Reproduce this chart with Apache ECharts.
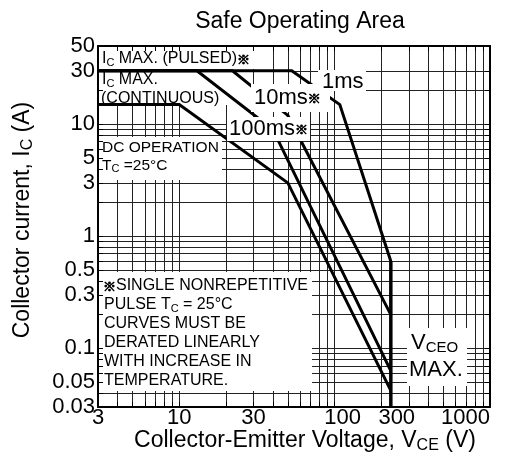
<!DOCTYPE html>
<html lang="en">
<head>
<meta charset="UTF-8">
<title>Safe Operating Area</title>
<script src="https://cdn.jsdelivr.net/npm/echarts@6/dist/echarts.min.js"></script>
<style>
  html, body { margin: 0; padding: 0; background: #fff; }
  #chart { width: 505px; height: 473px; }
</style>
</head>
<body>
<div id="chart"></div>
<script>
// axis range
const vMin = 3, vMax = 1000;
const iMin = 0.03, iMax = 50;

// tick labels
const xTickValues = [3, 10, 30, 100, 300, 1000];
const xTickLabels = ['3', '10', '30', '100', '300', '1000'];
const yTickValues = [0.03, 0.05, 0.1, 0.3, 0.5, 1, 3, 5, 10, 30, 50];
const yTickLabels = ['0.03', '0.05', '0.1', '0.3', '0.5', '1', '3', '5', '10', '30', '50'];

// grid lines
const vGrid = [4, 5, 6, 7, 8, 9, 10, 20, 30, 40, 50, 60, 70, 80, 90, 100, 200, 300, 400, 500, 600, 700, 800, 900];
const iGrid = [0.04, 0.05, 0.06, 0.07, 0.08, 0.09, 0.1, 0.2, 0.3, 0.4, 0.5, 0.6, 0.7, 0.8, 0.9,
               1, 2, 3, 4, 5, 6, 7, 8, 9, 10, 20, 30];

// SOA curves, [V, A]
const pulse1ms = [[3, 30], [53, 30], [108, 15], [230, 0.6]];
const pulse10ms = [[3, 30], [22, 30], [50, 12], [230, 0.2]];
const pulse100ms = [[3, 30], [13, 30], [40, 9], [230, 0.063]];
const dcOperation = [[3, 15], [10, 15], [50, 3], [230, 0.042]];
const vceoMax = [[230, 0.6], [230, 0.03]];

const FONT = '"Liberation Sans", Arial, sans-serif';
const MARK = '"Noto Sans CJK JP", "DejaVu Sans", sans-serif';

// nearest tick label for a value (log axis values come back slightly off)
function pickLabel(values, labels, v) {
    let best = 0;
    for (let k = 1; k < values.length; k++) {
        if (Math.abs(Math.log(values[k] / v)) < Math.abs(Math.log(values[best] / v))) best = k;
    }
    return labels[best];
}

function curve(name, data, width) {
    return {
        name: name, type: 'line', data: data, z: 3,
        symbol: 'none', silent: true, animation: false,
        lineStyle: {color: '#000', width: width, join: 'miter'}
    };
}

// small white box behind a text block
function box(x, y, w, h, z) {
    return {type: 'rect', z: z, silent: true, shape: {x: x, y: y, width: w, height: h}, style: {fill: '#fff'}};
}

function note(x, y, text, size, z, align) {
    const sub = Math.round(size * 0.7);
    return {
        type: 'text', x: x, y: y, z: z, silent: true,
        style: {
            text: text, fill: '#000', fontFamily: FONT, fontSize: size,
            textAlign: align || 'left', textVerticalAlign: 'middle',
            rich: {
                n: {fontSize: size, fontFamily: FONT, fill: '#000', lineHeight: size + 2},
                s: {fontSize: sub, fontFamily: FONT, fill: '#000', lineHeight: sub, verticalAlign: 'bottom'},
                // the reference mark is heavier than the font's glyph
                k: {fontSize: 13, fontFamily: MARK, fill: '#000', stroke: '#000', lineWidth: 0.8, lineHeight: size + 2}
            }
        }
    };
}

const gridLines = vGrid.map(v => ({coords: [[v, iMin], [v, iMax]]}))
    .concat(iGrid.map(a => ({coords: [[vMin, a], [vMax, a]]})));

const axisCommon = {
    type: 'log', logBase: 10, z: 6,
    axisLine: {show: true, lineStyle: {color: '#000', width: 2}},
    splitLine: {show: false},
    minorTick: {show: false}
};

const chart = echarts.init(document.getElementById('chart'));
chart.setOption({
    animation: false,
    backgroundColor: '#fff',
    grid: {left: 98, top: 46, width: 392, height: 361},
    xAxis: [
        Object.assign({}, axisCommon, {
            min: vMin, max: vMax, position: 'bottom',
            axisTick: {show: true, inside: true, length: 5, customValues: vGrid, lineStyle: {color: '#000'}},
            axisLabel: {
                customValues: xTickValues, margin: 0, fontSize: 22, fontFamily: FONT, color: '#000',
                alignMaxLabel: 'right',
                formatter: function (v) {
                    const t = pickLabel(xTickValues, xTickLabels, v);
                    if (t === '100') return '{r|' + t + '}';
                    if (t === '300') return '{l|' + t + '}';
                    return t;
                },
                rich: {
                    r: {fontSize: 22, fontFamily: FONT, color: '#000', padding: [0, 0, 0, 16]},
                    l: {fontSize: 22, fontFamily: FONT, color: '#000', padding: [0, 24, 0, 0]}
                }
            }
        }),
        Object.assign({}, axisCommon, {
            min: vMin, max: vMax, position: 'top',
            axisTick: {show: true, inside: true, length: 5, customValues: vGrid, lineStyle: {color: '#000'}},
            axisLabel: {show: false}
        })
    ],
    yAxis: [
        Object.assign({}, axisCommon, {
            min: iMin, max: iMax, position: 'left',
            axisTick: {show: true, inside: true, length: 5, customValues: iGrid, lineStyle: {color: '#000'}},
            axisLabel: {
                customValues: yTickValues, margin: 3, fontSize: 22, fontFamily: FONT, color: '#000',
                formatter: v => pickLabel(yTickValues, yTickLabels, v)
            }
        }),
        Object.assign({}, axisCommon, {
            min: iMin, max: iMax, position: 'right',
            axisTick: {show: true, inside: true, length: 5, customValues: iGrid, lineStyle: {color: '#000'}},
            axisLabel: {show: false}
        })
    ],
    series: [
        {
            type: 'lines', coordinateSystem: 'cartesian2d', silent: true, z: 1,
            lineStyle: {color: '#222', width: 1, opacity: 1},
            data: gridLines
        },
        curve('1ms', pulse1ms, 3),
        curve('10ms', pulse10ms, 3),
        curve('100ms', pulse100ms, 3),
        curve('DC', dcOperation, 3),
        curve('VCEO', vceoMax, 3.5)
    ],
    graphic: [
        // titles
        note(300, 22, '{n|Safe Operating Area}', 23, 10, 'center'),
        note(305, 441, '{n|Collector-Emitter Voltage, V}{s|CE}{n| (V)}', 23, 10, 'center'),
        Object.assign(note(23, 220, '{n|Collector current, I}{s|C}{n| (A)}', 23, 10, 'center'), {rotation: Math.PI / 2}),

        // boxes under the curves
        box(99, 47, 155, 22, 2),
        box(99, 72, 154, 33, 2),
        box(99, 137, 123, 43, 2),
        box(99, 272, 213, 119, 2),
        box(407, 328, 60, 58, 2),
        note(102, 59, '{n|I}{s|C}{n| MAX. (PULSED)}{k|※}', 16, 2.5),
        note(102, 80, '{n|I}{s|C}{n| MAX.}', 16, 2.5),
        note(101, 99, '{n|(CONTINUOUS)}', 16, 2.5),
        note(102, 148, '{n|DC OPERATION}', 15.5, 2.5),
        note(102, 166, '{n|T}{s|C}{n| =25°C}', 15.5, 2.5),
        note(103, 286, '{k|※}{n|SINGLE NONREPETITIVE}', 16, 2.5),
        note(104, 305, '{n|PULSE T}{s|C}{n| = 25°C}', 16, 2.5),
        note(104, 324, '{n|CURVES MUST BE}', 16, 2.5),
        note(104, 343, '{n|DERATED LINEARLY}', 16, 2.5),
        note(104, 362, '{n|WITH INCREASE IN}', 16, 2.5),
        note(104, 381, '{n|TEMPERATURE.}', 16, 2.5),
        note(411, 343, '{n|V}{s|CEO}', 22, 2.5),
        note(409, 370, '{n|MAX.}', 22, 2.5),

        // pulse width labels sit on top of the curves
        box(318, 70, 48, 21, 4),
        note(322, 82, '{n|1ms}', 22, 4.5),
        box(251, 84, 79, 28, 4),
        note(254, 98, '{n|10ms}{k|※}', 22, 4.5),
        box(227, 117, 83, 24, 4),
        note(229, 129, '{n|100ms}{k|※}', 22, 4.5)
    ]
});
</script>
</body>
</html>
